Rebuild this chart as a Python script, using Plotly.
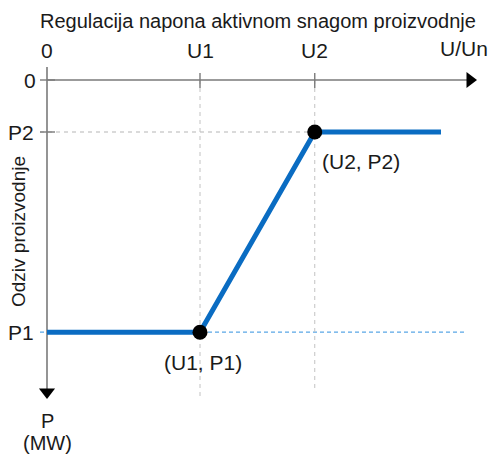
import plotly.graph_objects as go

# ---- data (conceptual units) ----
u_ticks = ["0", "U1", "U2"]
u_vals = [0.0, 4.0, 7.0]            # U/Un positions
p_ticks = ["P2", "P1"]
p_vals = [1.0, 4.85]                 # P positions (downwards)
curve_u = [0.0, 4.0, 7.0, 10.3]      # response curve
curve_p = [4.85, 4.85, 1.0, 1.0]
knee_u = [4.0, 7.0]
knee_p = [4.85, 1.0]
knee_labels = ["(U1, P1)", "(U2, P2)"]

W, H = 491, 456
X0, KX = 47.0, 38.25   # pixel of u=0, px per unit
Y0, KY = 80.0, 52.0    # pixel of p=0, px per unit
def ux(px): return (px - X0) / KX
def py(px): return (px - Y0) / KY

AX = "#7a7a7a"
BLUE = "#0a6cc2"
TXT = "#1a1a1a"
FONT = "Liberation Sans, Arial, sans-serif"

fig = go.Figure()

# guide lines
fig.add_trace(go.Scatter(x=[ux(40), ux(466)], y=[p_vals[1]]*2, mode="lines",
                         line=dict(color="#5aa7e6", width=1.2, dash="4px,3px"), hoverinfo="skip"))
fig.add_trace(go.Scatter(x=[ux(40), u_vals[2]], y=[p_vals[0]]*2, mode="lines",
                         line=dict(color="#b5b5b5", width=1, dash="4px,4px"), hoverinfo="skip"))
fig.add_trace(go.Scatter(x=[u_vals[1]]*2, y=[0, py(400)], mode="lines",
                         line=dict(color="#c2c2c2", width=1, dash="4px,4px"), hoverinfo="skip"))
fig.add_trace(go.Scatter(x=[u_vals[2]]*2, y=[0, py(390)], mode="lines",
                         line=dict(color="#c2c2c2", width=1, dash="4px,4px"), hoverinfo="skip"))

# axes
fig.add_trace(go.Scatter(x=[0, ux(468)], y=[0, 0], mode="lines",
                         line=dict(color=AX, width=1.6), hoverinfo="skip"))
fig.add_trace(go.Scatter(x=[0, 0], y=[py(67), py(390)], mode="lines",
                         line=dict(color=AX, width=1.6), hoverinfo="skip"))
for u in u_vals[1:]:
    fig.add_trace(go.Scatter(x=[u, u], y=[py(73), py(88)], mode="lines",
                             line=dict(color=AX, width=1.4), hoverinfo="skip"))
fig.add_trace(go.Scatter(x=[ux(40), ux(55)], y=[p_vals[0]]*2, mode="lines",
                         line=dict(color=AX, width=1.4), hoverinfo="skip"))
fig.add_trace(go.Scatter(x=[ux(40), ux(55)], y=[0, 0], mode="lines",
                         line=dict(color=AX, width=1.4), hoverinfo="skip"))
fig.add_trace(go.Scatter(x=[ux(470)], y=[0], mode="markers",
                         marker=dict(symbol="triangle-right", size=14, color="black"), hoverinfo="skip"))
fig.add_trace(go.Scatter(x=[0], y=[py(392)], mode="markers",
                         marker=dict(symbol="triangle-down", size=14, color="black"), hoverinfo="skip"))

# response curve
fig.add_trace(go.Scatter(x=curve_u, y=curve_p, mode="lines",
                         line=dict(color=BLUE, width=5), hoverinfo="skip"))
fig.add_trace(go.Scatter(x=knee_u, y=knee_p, mode="markers",
                         marker=dict(size=15, color="black"), hoverinfo="skip"))

def txt(x, y, s, size=20, angle=0, xanchor="center"):
    fig.add_annotation(x=x, y=y, text=s, showarrow=False, textangle=angle,
                       xanchor=xanchor, yanchor="middle",
                       font=dict(family=FONT, size=size, color=TXT))

# title
txt(ux(258), py(21), "Regulacija napona aktivnom snagom proizvodnje", size=20)
# u tick labels
for s, u in zip(u_ticks, u_vals):
    txt(u, py(50), s, size=21)
txt(ux(490), py(48), "U/Un", size=21, xanchor="right")
# p tick labels
txt(ux(30), 0, "0", size=21)
for s, p in zip(p_ticks, p_vals):
    txt(ux(21), p, s, size=21)
txt(ux(18), py(232), "Odziv proizvodnje", size=19, angle=-90)
txt(0, py(421), "P", size=20)
txt(0, py(443), "(MW)", size=20)
# knee labels
txt(knee_u[0] + ux(203) - ux(200), knee_p[0] + py(362) - py(332), knee_labels[0], size=21)
txt(knee_u[1] + ux(360) - ux(314), knee_p[1] + py(161) - py(132), knee_labels[1], size=21)

fig.update_layout(width=W, height=H, margin=dict(l=0, r=0, t=0, b=0),
                  plot_bgcolor="white", paper_bgcolor="white", showlegend=False,
                  xaxis=dict(visible=False, range=[ux(0), ux(W)], fixedrange=True),
                  yaxis=dict(visible=False, range=[py(H), py(0)], fixedrange=True))
fig.write_html("out.html", config={"displayModeBar": False},
               post_script="document.body.style.margin='0';document.body.style.overflow='hidden';")
